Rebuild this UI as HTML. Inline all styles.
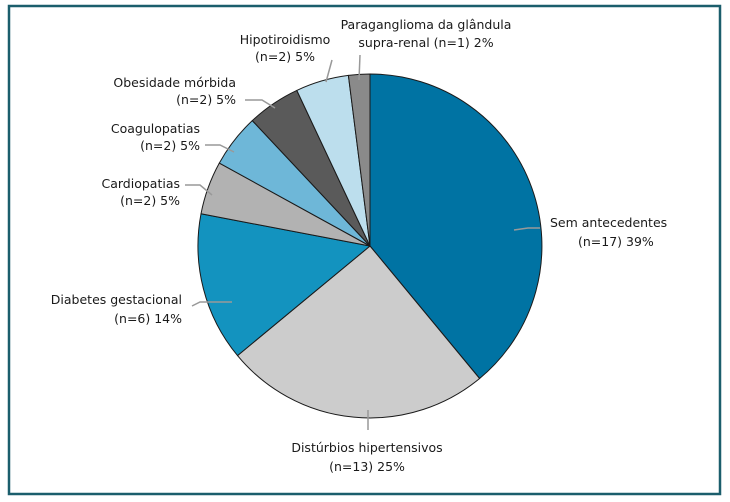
<!DOCTYPE html>
<html><head><meta charset="utf-8"><style>
html,body{margin:0;padding:0;background:#fff;}
svg{display:block;font-family:"DejaVu Sans","Liberation Sans",sans-serif;}
</style></head><body>
<svg width="730" height="502" viewBox="0 0 730 502">
<rect x="9" y="6" width="711" height="488" fill="#fff" stroke="#1b5e6c" stroke-width="2.5"/>
<g stroke="#1a1a1a" stroke-width="1" stroke-linejoin="round">
<path d="M370,246 L370,74 A172,172 0 0 1 479.6,378.5 Z" fill="#0073a3"/>
<path d="M370,246 L479.6,378.5 A172,172 0 0 1 237.5,355.6 Z" fill="#cccccc"/>
<path d="M370,246 L237.5,355.6 A172,172 0 0 1 201.0,213.8 Z" fill="#1393bf"/>
<path d="M370,246 L201.0,213.8 A172,172 0 0 1 219.3,163.1 Z" fill="#b2b2b2"/>
<path d="M370,246 L219.3,163.1 A172,172 0 0 1 252.3,120.6 Z" fill="#6eb7d8"/>
<path d="M370,246 L252.3,120.6 A172,172 0 0 1 296.8,90.4 Z" fill="#5a5a5a"/>
<path d="M370,246 L296.8,90.4 A172,172 0 0 1 348.4,75.4 Z" fill="#bcdeed"/>
<path d="M370,246 L348.4,75.4 A172,172 0 0 1 370,74 Z" fill="#8a8a8a"/>
</g>
<g stroke="#999" stroke-width="1.5" fill="none">
<polyline points="514,230 528,228 540,228"/>
<polyline points="368,410 368,430"/>
<polyline points="232,302 200,302 192,306"/>
<polyline points="212,195 200,185 185,185"/>
<polyline points="234,152 220,145 205,145"/>
<polyline points="275,108 262,100 245,100"/>
<polyline points="326,82 332,60"/>
<polyline points="359,80 360,55"/>
</g>
<g font-size="12.5" fill="#1a1a1a">
<text x="550" y="227">Sem antecedentes</text>
<text x="578" y="246">(n=17) 39%</text>
<text x="367" y="452" text-anchor="middle">Distúrbios hipertensivos</text>
<text x="367" y="471" text-anchor="middle">(n=13) 25%</text>
<text x="182" y="304" text-anchor="end">Diabetes gestacional</text>
<text x="182" y="323" text-anchor="end">(n=6) 14%</text>
<text x="180" y="188" text-anchor="end">Cardiopatias</text>
<text x="180" y="205" text-anchor="end">(n=2) 5%</text>
<text x="200" y="133" text-anchor="end">Coagulopatias</text>
<text x="200" y="150" text-anchor="end">(n=2) 5%</text>
<text x="236" y="87" text-anchor="end">Obesidade mórbida</text>
<text x="236" y="104" text-anchor="end">(n=2) 5%</text>
<text x="285" y="44" text-anchor="middle">Hipotiroidismo</text>
<text x="285" y="61" text-anchor="middle">(n=2) 5%</text>
<text x="426" y="29" text-anchor="middle">Paraganglioma da glândula</text>
<text x="426" y="47" text-anchor="middle">supra-renal (n=1) 2%</text>
</g>
</svg>
</body></html>
